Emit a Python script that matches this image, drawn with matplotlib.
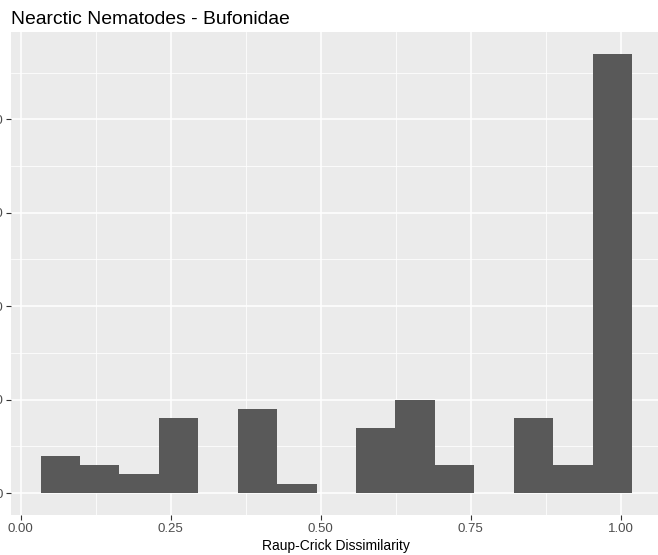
import numpy as np
import matplotlib.pyplot as plt

plt.rcParams['font.family'] = ['Liberation Sans', 'DejaVu Sans']

# histogram of Raup-Crick dissimilarity (15 bins)
counts = [4, 3, 2, 8, 0, 9, 1, 0, 7, 10, 3, 0, 8, 3, 47]
first_edge = 0.0333
bin_width = 0.0657
xticks = [0.0, 0.25, 0.5, 0.75, 1.0]
xticklabels = ["0.00", "0.25", "0.50", "0.75", "1.00"]
yticks = [0, 10, 20, 30, 40]

edges = first_edge + bin_width * np.arange(len(counts) + 1)

fig = plt.figure(figsize=(6.58, 5.55), dpi=100)
ax = fig.add_axes([11 / 658, 40 / 555, 650 / 658, 483 / 555])

ax.set_facecolor('#EBEBEB')
ax.bar(edges[:-1], counts, width=bin_width, align='edge',
       color='#595959', edgecolor='none', zorder=3)

ax.set_xlim(-0.016, 1.067)
ax.set_ylim(-2.35, 49.35)
ax.set_xticks(xticks)
ax.set_xticklabels(xticklabels)
ax.set_yticks(yticks)
ax.set_xticks([0.125, 0.375, 0.625, 0.875], minor=True)
ax.set_yticks([5, 15, 25, 35, 45], minor=True)

ax.grid(which='major', color='white', linewidth=1.1, zorder=0)
ax.grid(which='minor', color='white', linewidth=0.55, zorder=0)
ax.set_axisbelow(True)
for s in ax.spines.values():
    s.set_visible(False)

ax.tick_params(which='major', length=3.5, width=0.8, color='#333333',
               labelcolor='#4D4D4D', labelsize=9.5, pad=2)
ax.tick_params(which='minor', length=0)

ax.set_xlabel("Raup-Crick Dissimilarity", fontsize=10, color='black', labelpad=3)
ax.set_title("Nearctic Nematodes - Bufonidae", loc='left', fontsize=13.9,
             color='black', pad=6)

fig.savefig('out.png', dpi=100)
